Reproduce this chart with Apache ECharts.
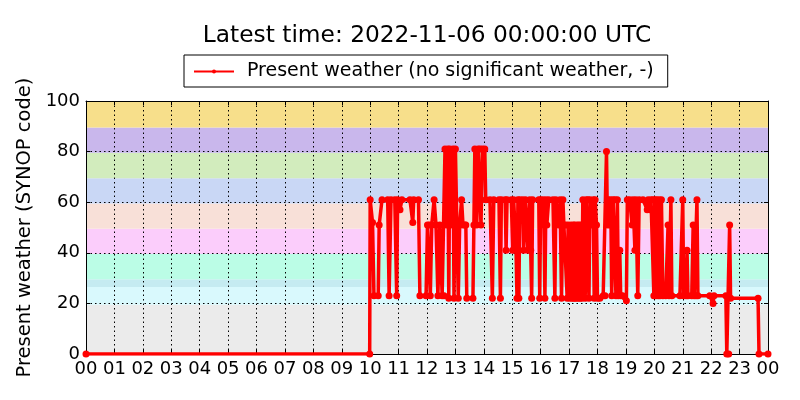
<!DOCTYPE html>
<html>
<head>
<meta charset="utf-8">
<script src="https://cdn.jsdelivr.net/npm/echarts@6/dist/echarts.min.js"></script>
<style>
html,body{margin:0;padding:0;background:#fff;}
#chart{width:800px;height:400px;}
</style>
</head>
<body>
<div id="chart"></div>
<script>
const titleText = 'Latest time: 2022-11-06 00:00:00 UTC';
const seriesName = 'Present weather (no significant weather, -)';
const yAxisName = 'Present weather (SYNOP code)';
const hourLabels = ['00','01','02','03','04','05','06','07','08','09','10','11','12','13','14','15','16','17','18','19','20','21','22','23','00'];
const yTicks = [0, 20, 40, 60, 80, 100];

// minutes since 00:00 UTC
const minutes = [0, 599,
600,605,608,617,619,625,637,640,644,652,656,658,
663,667,684,690,692,702,705,718,
721,725,727,730,735,739,743,747,752,756,758,761,764,766,768,773,775,777,
780,783,786,789,793,796,800,802,804,817,819,821,825,828,832,834,837,
842,844,853,858,861,872,875,877,885,887,889,898,
901,903,908,910,912,914,916,922,924,928,933,937,939,941,943,956,958,
960,965,967,969,971,973,977,986,990,992,998,1001,1004,1007,1009,1013,1016,1018,
1022,1024,1027,1029,1031,1032,1034,1037,1039,1041,1043,1045,1047,1049,1054,1056,1060,1062,1064,1068,1071,1073,1075,1078,
1080,1085,1092,1096,1099,1101,1103,1106,1108,1110,1113,1117,1119,1122,1124,1127,1129,1133,1141,
1143,1148,1153,1155,1159,1161,1165,1168,1176,1185,1187,1191,1193,1197,1199,
1201,1203,1205,1208,1210,1212,1215,1218,1224,1229,1231,1235,1237,1254,
1260,1262,1267,1269,1271,1279,1282,1284,1288,1290,1292,1317,1324,1326,1351,1353,1357,1359,1361,1419,1421,1440];

// SYNOP present weather code
const codes = [0, 0,
61,52,23,23,51,61,61,23,61,61,23,61,
57,61,61,52,61,61,23,23,
51,51,23,51,61,51,23,51,23,23,81,51,81,22,81,51,81,22,
81,51,22,51,61,51,51,51,22,22,51,81,51,81,81,51,81,
81,61,61,22,61,61,22,61,61,41,61,61,
41,61,41,22,61,22,61,61,41,61,41,61,41,22,61,61,22,
61,61,51,22,61,51,61,61,22,61,51,61,22,61,51,51,22,51,
22,51,22,51,22,51,22,51,22,51,22,51,22,61,22,61,61,22,61,51,61,22,61,51,
22,22,23,23,80,51,61,51,61,23,61,61,23,61,23,41,23,23,21,
61,61,51,61,41,61,23,61,61,57,61,57,61,61,23,
61,23,61,23,61,23,61,23,23,51,23,61,23,23,
61,23,23,41,23,23,51,23,23,61,23,23,20,23,23,0,0,51,22,22,0,0];

// background bands of SYNOP code groups
const bandFrom   = [0, 19.5, 26.5, 29.5, 39.5, 49.5, 59.5, 69.5, 79.5, 89.5];
const bandTo     = [19.5, 26.5, 29.5, 39.5, 49.5, 59.5, 69.5, 79.5, 89.5, 100];
const bandColors = ['#ebebeb','#d9f9fd','#c5ebf1','#bbfde6','#fbcdfb','#f8e0d8','#c9d7f5','#d2ecbd','#c9b7ec','#f7df8b'];

const data = minutes.map((m, i) => [m, codes[i]]);
const bands = bandFrom.map((f, i) => [
  {yAxis: f, itemStyle: {color: bandColors[i], opacity: 1}},
  {yAxis: bandTo[i]}
]);

const FONT = 'DejaVu Sans';
const chart = echarts.init(document.getElementById('chart'), null, {renderer: 'canvas'});
chart.setOption({
  animation: false,
  backgroundColor: '#ffffff',
  textStyle: {fontFamily: FONT, color: '#000'},
  title: {
    text: titleText,
    left: 427, top: 24, textAlign: 'center', padding: 0,
    textStyle: {fontFamily: FONT, fontSize: 23.3, fontWeight: 'normal', color: '#000'}
  },
  legend: {
    data: [seriesName],
    left: 184, top: 55,
    padding: [7, 14, 6, 9],
    borderColor: '#000', borderWidth: 1, borderRadius: 0,
    itemWidth: 40, itemHeight: 5,
    textStyle: {fontFamily: FONT, fontSize: 19, color: '#000', padding: [0, 0, 0, 8]}
  },
  grid: {left: 86, right: 32, top: 101, bottom: 46, containLabel: false},
  xAxis: [{
    type: 'value', min: 0, max: 1440, interval: 60, z: 2,
    axisLine: {show: true, lineStyle: {color: '#000', width: 1}},
    axisTick: {show: true, inside: true, length: 4, lineStyle: {color: '#000'}},
    axisLabel: {
      fontFamily: FONT, fontSize: 18, color: '#000', margin: 6,
      formatter: v => hourLabels[Math.round(v / 60)]
    },
    splitLine: {show: true, lineStyle: {color: '#000', width: 1, type: [1.5, 3]}}
  }, {
    type: 'value', min: 0, max: 1440, interval: 60, position: 'top', z: 2,
    axisLine: {show: true, onZero: false, lineStyle: {color: '#000', width: 1}},
    axisTick: {show: true, inside: true, length: 4, lineStyle: {color: '#000'}},
    axisLabel: {show: false}, splitLine: {show: false}
  }],
  yAxis: [{
    type: 'value', min: yTicks[0], max: yTicks[yTicks.length - 1], interval: 20, z: 2,
    name: yAxisName, nameLocation: 'middle', nameGap: 46,
    nameTextStyle: {fontFamily: FONT, fontSize: 19.5, color: '#000'},
    axisLine: {show: true, lineStyle: {color: '#000', width: 1}},
    axisTick: {show: true, inside: true, length: 4, lineStyle: {color: '#000'}},
    axisLabel: {fontFamily: FONT, fontSize: 18, color: '#000', margin: 6},
    splitLine: {show: true, lineStyle: {color: '#000', width: 1, type: [1.5, 3]}}
  }, {
    type: 'value', min: 0, max: 100, interval: 20, position: 'right', z: 2,
    axisLine: {show: true, onZero: false, lineStyle: {color: '#000', width: 1}},
    axisTick: {show: true, inside: true, length: 4, lineStyle: {color: '#000'}},
    axisLabel: {show: false}, splitLine: {show: false}
  }],
  series: [{
    name: 'bands', type: 'line', data: [], z: 1, silent: true,
    markArea: {silent: true, z: 1, data: bands}
  }, {
    name: seriesName, type: 'line', data: data, z: 3,
    xAxisIndex: 0, yAxisIndex: 0,
    color: '#ff0000',
    lineStyle: {color: '#ff0000', width: 3.5},
    itemStyle: {color: '#ff0000'},
    symbol: 'circle', symbolSize: 7, showSymbol: true, showAllSymbol: true,
    clip: true
  }]
});
</script>
</body>
</html>
